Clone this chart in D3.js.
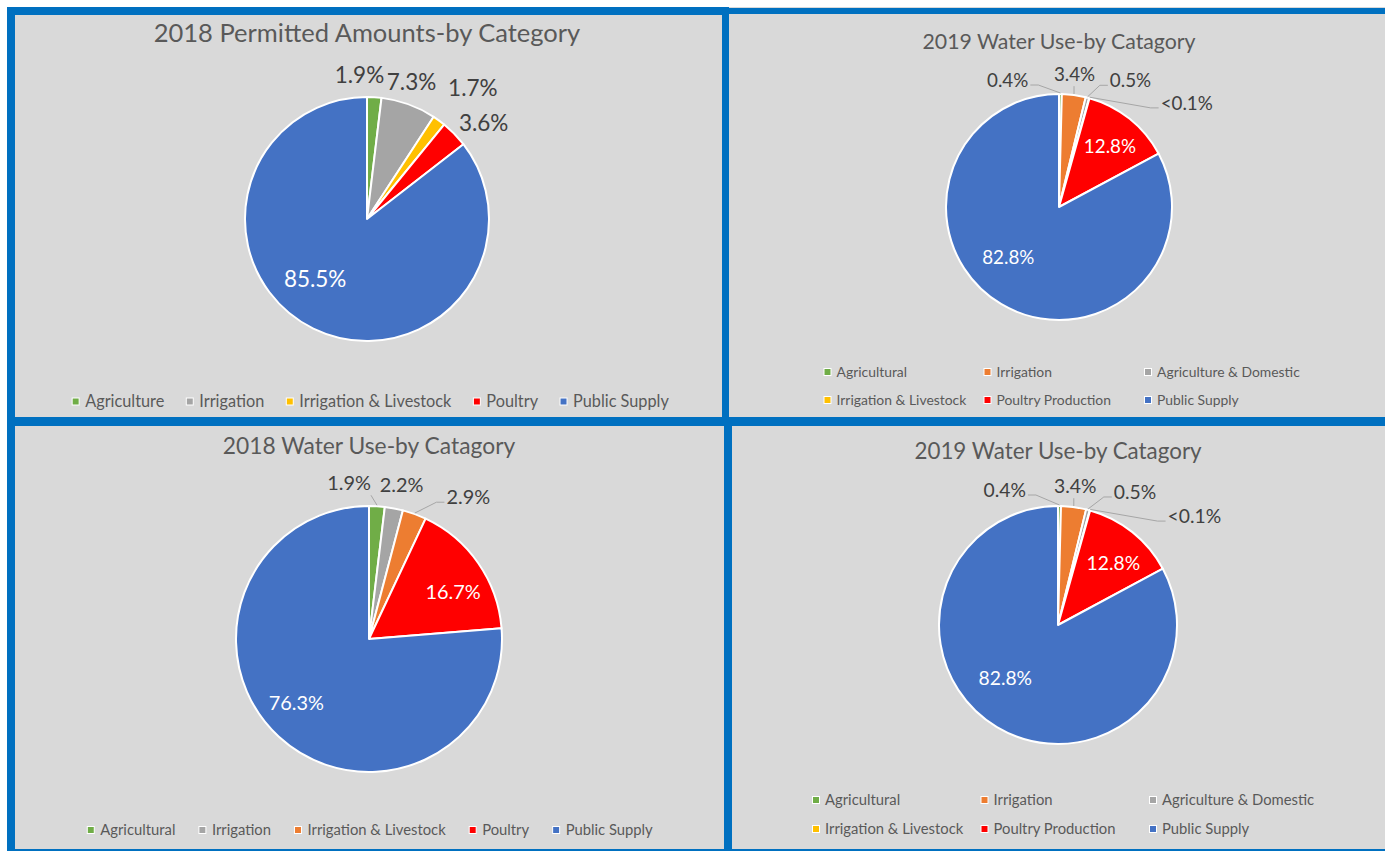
<!DOCTYPE html>
<html><head><meta charset="utf-8">
<script src="https://cdn.jsdelivr.net/npm/d3@7"></script>
<style>
body{margin:0;background:#fff;}
svg{display:block;font-family:Lato,"Open Sans",sans-serif;}
</style>
</head><body>
<svg id="c" width="1385" height="851"></svg>
<script>
// ---------- DATA ----------
const titles = [
  "2018 Permitted Amounts-by Category",
  "2019 Water Use-by Catagory",
  "2018 Water Use-by Catagory",
  "2019 Water Use-by Catagory"
];
const catsPermit2018 = ["Agriculture","Irrigation","Irrigation & Livestock","Poultry","Public Supply"];
const valsPermit2018 = [1.9, 7.3, 1.7, 3.6, 85.5];

const catsUse2018 = ["Agricultural","Irrigation","Irrigation & Livestock","Poultry","Public Supply"];
const valsUse2018 = [1.9, 2.2, 2.9, 16.7, 76.3];

const catsUse2019 = ["Agricultural","Irrigation","Agriculture & Domestic","Irrigation & Livestock","Poultry Production","Public Supply"];
const valsUse2019 = [0.4, 3.4, 0.5, 0.05, 12.8, 82.8];

// ---------- STYLES ----------
const C = {green:"#70AD47", gray:"#A5A5A5", yellow:"#FFC000", red:"#FF0000", blue:"#4472C4", orange:"#ED7D31"};
const colorsPermit2018 = [C.green, C.gray, C.yellow, C.red, C.blue];
const colorsUse2018 = [C.green, C.gray, C.orange, C.red, C.blue];
const colorsUse2019 = [C.green, C.orange, C.gray, C.yellow, C.red, C.blue];

const fmt = v => v < 0.1 ? "<0.1%" : d3.format(".1f")(v) + "%";

const panels = [
  {title:titles[0], cats:catsPermit2018, vals:valsPermit2018, colors:colorsPermit2018,
   cx:367, cy:219, r:122, titleY:42, titleSize:25.5, labelSize:22.5, legendSize:16.3,
   legend:{type:"row", y:401.5, cx:370.5, gap:22},
   inside:[false,false,false,false,true],
   nudges:[[-16,-2],[-4,-4],[22,-16],[15,3],[-17,-11]],
   leaders:[false,false,false,false,false]},
  {title:titles[1], cats:catsUse2019, vals:valsUse2019, colors:colorsUse2019,
   cx:1059, cy:207, r:113, titleY:48.5, titleSize:21.3, labelSize:18.8, legendSize:13.9,
   legend:{type:"grid", cols:[827.5,987.5,1148], rows:[372,400]},
   inside:[false,false,false,false,true,true],
   nudges:[[-53,6],[-2,-1],[38,2],[92,24],[5,-3],[-13,-13]],
   leaders:[true,true,true,true,false,false]},
  {title:titles[2], cats:catsUse2018, vals:valsUse2018, colors:colorsUse2018,
   cx:369, cy:639, r:133, titleY:454, titleSize:22.8, labelSize:19.9, legendSize:14.8,
   legend:{type:"row", y:830, cx:370, gap:23.5},
   inside:[false,false,false,true,true],
   nudges:[[-29,-3],[4,-4],[47,2],[13,2],[-14,0]],
   leaders:[true,false,true,false,false]},
  {title:titles[3], cats:catsUse2019, vals:valsUse2019, colors:colorsUse2019,
   cx:1058, cy:625, r:119, titleY:458.5, titleSize:22.4, labelSize:19.3, legendSize:14.8,
   legend:{type:"grid", cols:[816,984.5,1153], rows:[800,829]},
   inside:[false,false,false,false,true,true],
   nudges:[[-55,4],[-1,-1],[42,1.5],[99,25],[7,-2],[-13,-13]],
   leaders:[true,true,true,true,false,false]}
];

// ---------- DRAW ----------
const svg = d3.select("#c");
svg.append("rect").attr("x",7).attr("y",7).attr("width",1378).attr("height",844).attr("fill","#D9D9D9");

panels.forEach(p => {
  const g = svg.append("g");
  g.append("text").attr("x",p.cx).attr("y",p.titleY).attr("text-anchor","middle")
    .attr("font-size",p.titleSize).attr("fill","#595959").text(p.title);

  const data = p.cats.map((c,i)=>({c, v:p.vals[i], color:p.colors[i]}));
  const arcs = d3.pie().sort(null).value(d=>d.v)(data);
  const arc = d3.arc().innerRadius(0).outerRadius(p.r);
  const pg = g.append("g").attr("transform",`translate(${p.cx},${p.cy})`);
  pg.selectAll("path").data(arcs).join("path")
    .attr("d",arc).attr("fill",d=>d.data.color)
    .attr("stroke","#fff").attr("stroke-width",2).attr("stroke-linejoin","round");

  arcs.forEach((a,i)=>{
    const mid = (a.startAngle + a.endAngle)/2;
    const inside = p.inside[i];
    const rr = inside ? p.r*0.65 : p.r + 20;
    const lx = rr*Math.sin(mid) + p.nudges[i][0];
    const ly = -rr*Math.cos(mid) + p.nudges[i][1];
    const t = pg.append("text").attr("x",lx).attr("y",ly).attr("dy","0.36em")
      .attr("text-anchor","middle").attr("font-size",p.labelSize)
      .attr("fill", inside ? "#fff" : "#404040").text(fmt(a.data.v));
    if (p.leaders[i]) {
      const w = t.node().getComputedTextLength();
      const px = (p.r+1)*Math.sin(mid), py = -(p.r+1)*Math.cos(mid);
      let pts;
      if (Math.abs(px - lx) < w/2 + 10) {
        const sx = Math.max(lx - w/2, Math.min(lx + w/2, px));
        pts = [[sx, ly + 12],[px, py]];
      } else if (px > lx) {
        const sx = lx + w/2 + 2;
        pts = [[sx, ly + 5],[sx + 8, ly + 5],[px, py]];
      } else {
        const sx = lx - w/2 - 2;
        pts = [[sx, ly + 5],[sx - 8, ly + 5],[px, py]];
      }
      pg.append("path").attr("d", d3.line()(pts)).attr("fill","none")
        .attr("stroke","#A6A6A6").attr("stroke-width",1);
    }
  });

  // legend
  const lg = g.append("g");
  if (p.legend.type === "row") {
    let x = 0;
    data.forEach(d=>{
      lg.append("rect").attr("x",x).attr("y",p.legend.y-3.5).attr("width",7).attr("height",7)
        .attr("fill",d.color).attr("stroke","#fff").attr("stroke-width",1);
      const t = lg.append("text").attr("x",x+13).attr("y",p.legend.y).attr("dy","0.36em")
        .attr("font-size",p.legendSize).attr("fill","#595959").text(d.c);
      x += 13 + t.node().getComputedTextLength() + p.legend.gap;
    });
    const total = x - p.legend.gap;
    lg.attr("transform",`translate(${p.legend.cx - total/2},0)`);
  } else {
    data.forEach((d,i)=>{
      const mx = p.legend.cols[i%3], my = p.legend.rows[Math.floor(i/3)];
      lg.append("rect").attr("x",mx-3.5).attr("y",my-3.5).attr("width",7).attr("height",7)
        .attr("fill",d.color).attr("stroke","#fff").attr("stroke-width",1);
      lg.append("text").attr("x",mx+9).attr("y",my).attr("dy","0.36em")
        .attr("font-size",p.legendSize).attr("fill","#595959").text(d.c);
    });
  }
});

// panel frame lines
const blue = "#0070C0";
const frame = [
  [7,7,722,8],[729,8,656,6],[7,7,8,844],[722,7,7,418],[724,417,8,434],[7,417,1378,9],[7,849,1378,2]
];
svg.append("g").selectAll("rect").data(frame).join("rect")
  .attr("x",d=>d[0]).attr("y",d=>d[1]).attr("width",d=>d[2]).attr("height",d=>d[3]).attr("fill",blue);
</script>
</body></html>
